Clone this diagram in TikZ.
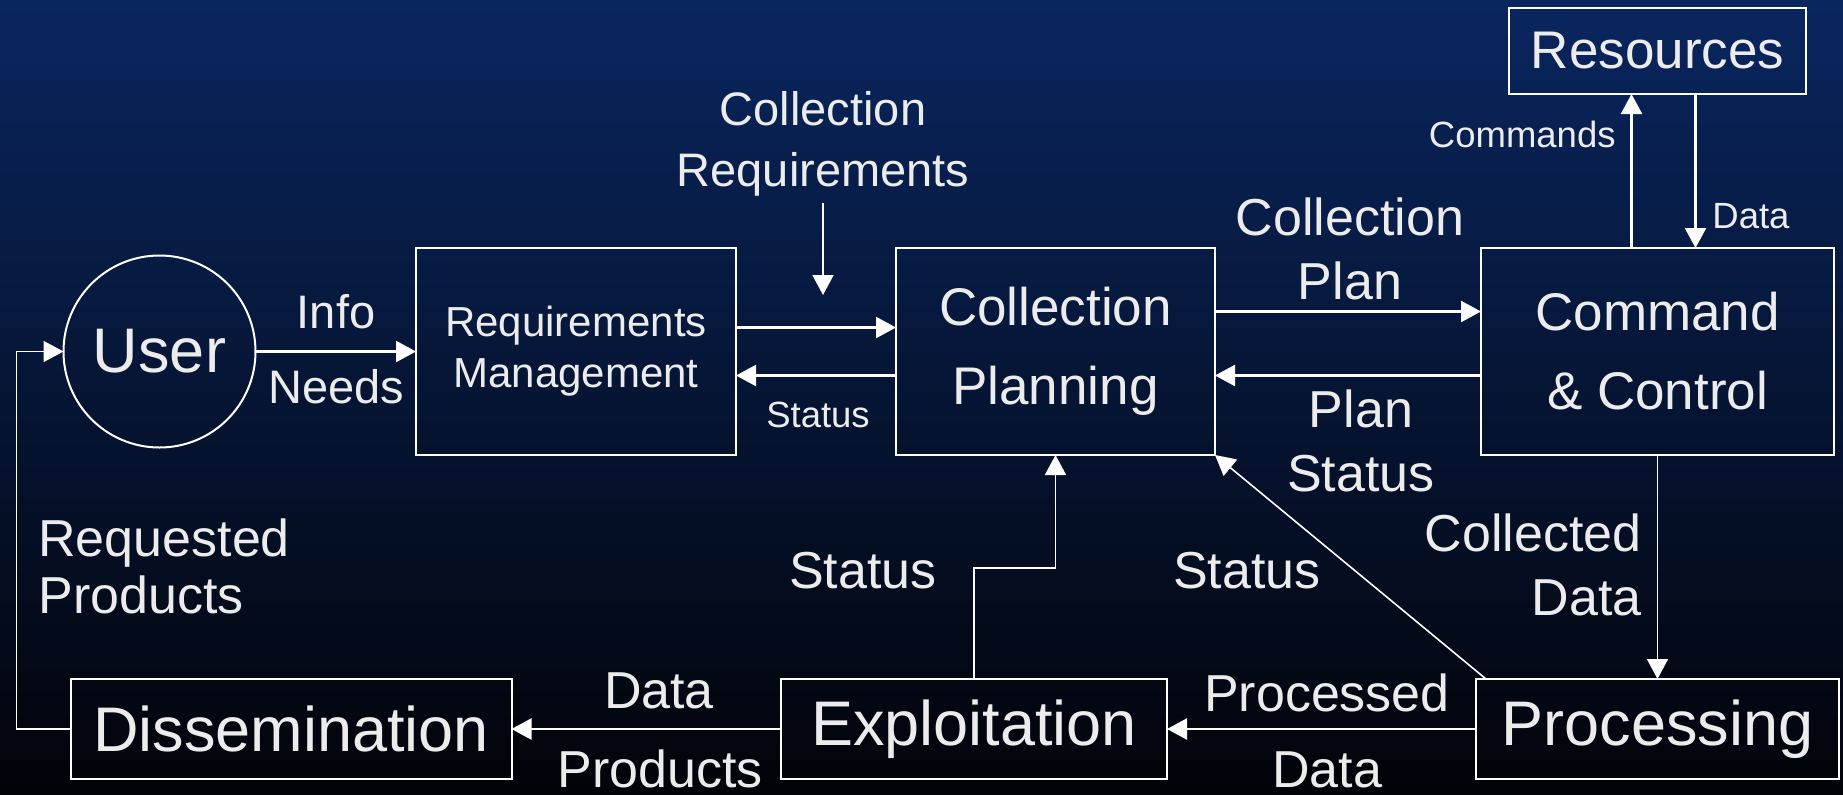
\documentclass[tikz,border=0pt]{standalone}
\usepackage{fontspec}
\setmainfont{Liberation Sans}
\usetikzlibrary{arrows.meta}

\definecolor{bgtop}{RGB}{9,38,95}
\definecolor{bgmid}{RGB}{4,14,40}
\definecolor{bgbot}{RGB}{2,3,8}
\definecolor{txt}{RGB}{236,236,236}

\newcommand{\szbig}{\fontsize{31.5}{38}\selectfont}
\newcommand{\szbox}{\fontsize{26.5}{39.5}\selectfont}
\newcommand{\szlab}{\fontsize{26}{32}\selectfont}
\newcommand{\szmid}{\fontsize{23.5}{30.5}\selectfont}
\newcommand{\szreq}{\fontsize{21}{25.5}\selectfont}
\newcommand{\szsmall}{\fontsize{18.25}{22}\selectfont}

\begin{document}
\begin{tikzpicture}[x=0.5pt, y=-0.5pt,
  box/.style={draw=white, line width=1pt, rectangle, inner sep=0pt, outer sep=0pt, text=txt, align=center},
  lbl/.style={text=txt, inner sep=0pt, anchor=base, align=center},
  arr/.style={draw=white, line width=1.2pt, -{Triangle[length=10pt, width=10.5pt]}},
  arrthin/.style={arr, line width=0.8pt}]
\useasboundingbox (0,0) rectangle (1843,794);
\fill[top color=bgtop, middle color=bgmid, bottom color=bgbot] (0,0) rectangle (1843,794);

% boxes
\node[box, circle, minimum size=96pt, font=\szbig] (user) at (159.5,351.5) {User};
\node[box, minimum width=160pt, minimum height=103.5pt, font=\szreq] (req) at (576,351.5) {Requirements\\Management};
\node[box, minimum width=159.5pt, minimum height=103.5pt, font=\szbox] (plan) at (1055.5,351.5) {Collection\\Planning};
\node[box, minimum width=176.5pt, minimum height=103.5pt, font=\szbox] (cc) at (1657.5,351.5) {Command\\\& Control};
\node[box, minimum width=148.5pt, minimum height=43pt, font=\szbox] (res) at (1657.5,51) {Resources};
\node[box, minimum width=220.5pt, minimum height=50pt, font=\szbig] (diss) at (291,729) {Dissemination};
\node[box, minimum width=193pt, minimum height=50pt, font=\szbig] (expl) at (974,729) {Exploitation};
\node[box, minimum width=181.5pt, minimum height=50pt, font=\szbig] (proc) at (1657.5,729) {Processing};

% labels (base = last line)
\node[lbl, font=\szmid] (colreq) at (823,186) {Collection\\Requirements};
\node[lbl, font=\szmid] (info) at (336,328) {Info};
\node[lbl, font=\szmid] (needs) at (336,403) {Needs};
\node[lbl, font=\szsmall] (stat1) at (818,427) {Status};
\node[lbl, font=\szlab] (cplan) at (1350,299) {Collection\\Plan};
\node[lbl, font=\szlab] (pstat) at (1361,491) {Plan\\Status};
\node[lbl, font=\szsmall, anchor=base east] (cmds) at (1616,147) {Commands};
\node[lbl, font=\szsmall, anchor=base west] (rdata) at (1712,228) {Data};
\node[lbl, font=\szlab, anchor=base east, align=right] (cdata) at (1642,615) {Collected\\Data};
\node[lbl, font=\szlab] (stat2) at (863,588) {Status};
\node[lbl, font=\szlab] (stat3) at (1247,588) {Status};
\node[lbl, font=\fontsize{26}{28.5}\selectfont, anchor=base west, align=left] (reqp) at (38,613) {Requested\\Products};
\node[lbl, font=\szlab] (dpdata) at (659,708) {Data};
\node[lbl, font=\szlab] (dpprod) at (660,787) {Products};
\node[lbl, font=\szlab] (pdproc) at (1327,711) {Processed};
\node[lbl, font=\szlab] (pddata) at (1327,787) {Data};

% connectors
\coordinate (crtip) at (823,295);
\draw[arrthin] ([yshift=-3.5pt]colreq.south) -- (crtip);
\draw[arr] (user) -- (req);
\draw[arr] ([yshift=12pt]req.east) -- ([yshift=12pt]plan.west);
\draw[arr] ([yshift=-12pt]plan.west) -- ([yshift=-12pt]req.east);
\draw[arr] ([yshift=20pt]plan.east) -- ([yshift=20pt]cc.west);
\draw[arr] ([yshift=-12pt]cc.west) -- ([yshift=-12pt]plan.east);
\draw[arr] ([xshift=-13pt]cc.north) -- ([xshift=-13pt]res.south);
\draw[arr] ([xshift=19pt]res.south) -- ([xshift=19pt]cc.north);
\draw[arrthin] (cc) -- (proc);
\draw[arr] (proc) -- (expl);
\draw[arr] (expl) -- (diss);
\draw[arrthin] (expl.north) -- ++(0,-111) -| (plan.south);
\draw[arrthin] ([xshift=5pt]proc.north west) -- (plan.south east);
\draw[arrthin] (diss.west) -- ++(-54,0) |- (user.west);
\end{tikzpicture}
\end{document}
